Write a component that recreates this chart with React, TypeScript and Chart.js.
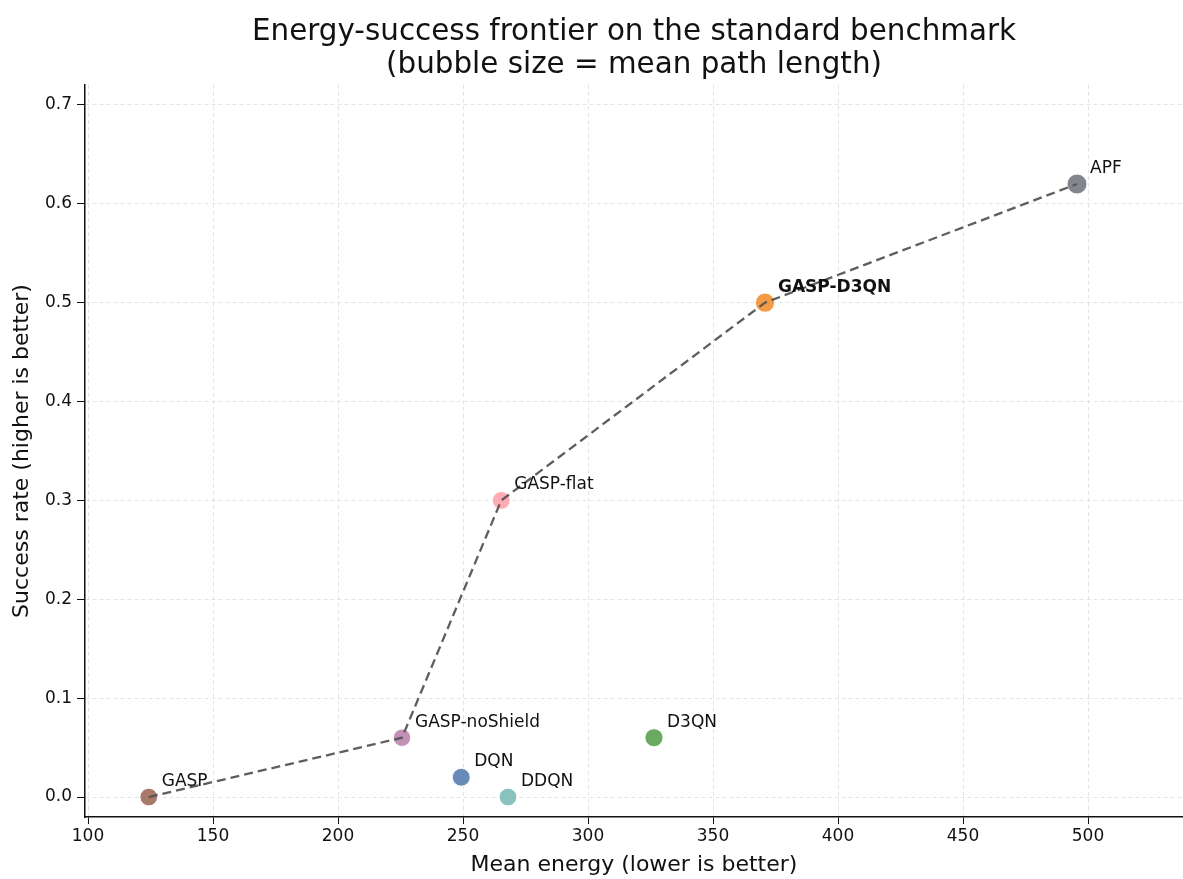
import React, { useEffect, useRef } from "react";
import { Chart, registerables } from "chart.js";

Chart.register(...registerables);

const methods = ["GASP", "GASP-noShield", "DQN", "DDQN", "GASP-flat", "D3QN", "GASP-D3QN", "APF"];
const meanEnergy = [124.3, 225.6, 249.3, 268.0, 265.3, 326.4, 370.8, 495.6];
const successRate = [0.0, 0.06, 0.02, 0.0, 0.3, 0.06, 0.5, 0.62];
const meanPathLength = [78, 76, 80, 78, 80, 82, 92, 100];
const pointColors = [
  "rgba(156,106,88,0.9)",
  "rgba(186,125,172,0.85)",
  "rgba(78,117,170,0.85)",
  "rgba(118,183,178,0.85)",
  "rgba(255,157,167,0.85)",
  "rgba(89,161,79,0.9)",
  "rgba(242,142,43,0.88)",
  "rgba(108,114,122,0.85)",
];
const frontierMethods = ["GASP", "GASP-noShield", "GASP-flat", "GASP-D3QN", "APF"];
const highlightMethod = "GASP-D3QN";
const xTicks = [100, 150, 200, 250, 300, 350, 400, 450, 500];
const yTicks = [0, 0.1, 0.2, 0.3, 0.4, 0.5, 0.6, 0.7];

const FONT = "'DejaVu Sans', sans-serif";

const labelPlugin = {
  id: "pointLabels",
  afterDatasetsDraw(chart: any) {
    const meta = chart.getDatasetMeta(1);
    const ctx = chart.ctx;
    ctx.save();
    ctx.fillStyle = "#111";
    ctx.textAlign = "left";
    ctx.textBaseline = "middle";
    meta.data.forEach((el: any, i: number) => {
      const name = methods[i];
      ctx.font = (name === highlightMethod ? "bold " : "") + "17px " + FONT;
      ctx.fillText(name, el.x + 13, el.y - 15.5);
    });
    ctx.restore();
  },
};

export default function App() {
  const ref = useRef<HTMLCanvasElement | null>(null);

  useEffect(() => {
    document.body.style.margin = "0";
    const canvas = ref.current;
    if (!canvas) return;
    const points = methods.map((m, i) => ({ x: meanEnergy[i], y: successRate[i] }));
    const frontier = frontierMethods.map((m) => {
      const i = methods.indexOf(m);
      return { x: meanEnergy[i], y: successRate[i] };
    });
    const chart = new Chart(canvas, {
      type: "scatter",
      data: {
        datasets: [
          {
            label: "frontier",
            data: frontier,
            showLine: true,
            pointRadius: 0,
            borderColor: "rgba(85,85,85,0.95)",
            borderWidth: 2.3,
            borderDash: [9, 5],
            order: 0,
          } as any,
          {
            label: "methods",
            data: points,
            pointRadius: meanPathLength.map((v) => Math.sqrt(v)),
            pointBackgroundColor: pointColors,
            pointBorderColor: "rgba(255,255,255,0.9)",
            pointBorderWidth: 1,
            order: 1,
          },
        ],
      },
      options: {
        responsive: false,
        animation: false,
        events: [],
        layout: { padding: 0, autoPadding: false },
        plugins: {
          legend: { display: false },
          tooltip: { enabled: false },
          title: {
            display: true,
            fullSize: false,
            text: ["Energy-success frontier on the standard benchmark", "(bubble size = mean path length)"],
            color: "#111",
            font: { family: FONT, size: 29.4, weight: "normal", lineHeight: 1.12 },
            padding: { top: 15.5, bottom: 3.6 },
          },
        },
        scales: {
          x: {
            type: "linear",
            min: 98.8,
            max: 538,
            afterBuildTicks: (scale: any) => {
              scale.ticks = xTicks.map((v) => ({ value: v }));
            },
            afterFit: (scale: any) => {
              scale.height = 62;
              scale.paddingLeft = 0;
              scale.paddingRight = 0;
            },
            ticks: {
              color: "#111",
              font: { family: FONT, size: 17 },
              padding: 2,
              maxRotation: 0,
              callback: (v: any) => String(v),
            },
            grid: {
              color: "rgba(210,210,210,0.6)",
              lineWidth: 1,
              tickColor: "#111",
              tickLength: 7,
            },
            border: { display: true, color: "#111", width: 1.5, dash: [4, 3] },
            title: {
              display: true,
              text: "Mean energy (lower is better)",
              color: "#111",
              font: { family: FONT, size: 22 },
              padding: { top: 0, bottom: 1 },
            },
          },
          y: {
            type: "linear",
            min: -0.0202,
            max: 0.7202,
            afterBuildTicks: (scale: any) => {
              scale.ticks = yTicks.map((v) => ({ value: v }));
            },
            afterFit: (scale: any) => {
              scale.width = 85;
              scale.paddingTop = 0;
              scale.paddingBottom = 0;
            },
            ticks: {
              color: "#111",
              font: { family: FONT, size: 17 },
              padding: 5,
              callback: (v: any) => Number(v).toFixed(1),
            },
            grid: {
              color: "rgba(210,210,210,0.6)",
              lineWidth: 1,
              tickColor: "#111",
              tickLength: 8,
            },
            border: { display: true, color: "#111", width: 1.5, dash: [4, 3] },
            title: {
              display: true,
              text: "Success rate (higher is better)",
              color: "#111",
              font: { family: FONT, size: 22 },
              padding: { top: 9, bottom: 0 },
            },
          },
        },
      } as any,
      plugins: [labelPlugin],
    });
    return () => chart.destroy();
  }, []);

  return (
    <div style={{ width: 1183, height: 879, background: "#fff" }}>
      <canvas ref={ref} width={1183} height={879} style={{ display: "block" }} />
    </div>
  );
}
